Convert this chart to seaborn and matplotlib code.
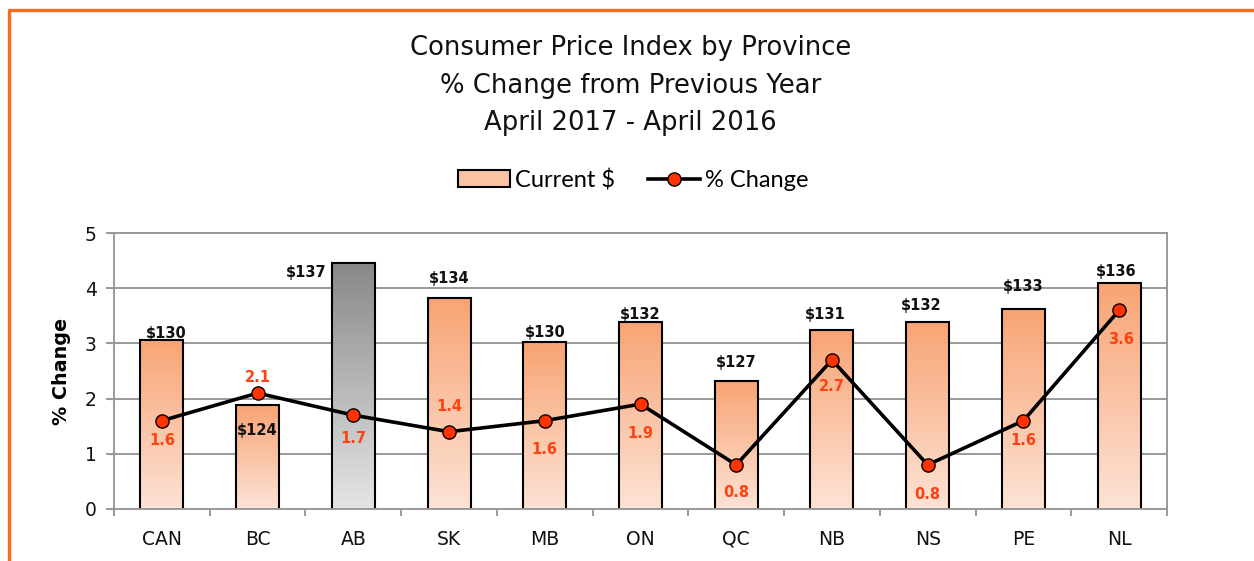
import numpy as np
import seaborn as sns
import matplotlib.pyplot as plt
from matplotlib.colors import LinearSegmentedColormap
from matplotlib.patches import Patch
from matplotlib.lines import Line2D

# data
PROVINCES = ['CAN', 'BC', 'AB', 'SK', 'MB', 'ON', 'QC', 'NB', 'NS', 'PE', 'NL']
CPI_DOLLARS = [130.3, 124.4, 137.3, 134.1, 130.1, 131.9, 126.6, 131.2, 131.9, 133.1, 135.5]
PCT_CHANGE = [1.6, 2.1, 1.7, 1.4, 1.6, 1.9, 0.8, 2.7, 0.8, 1.6, 3.6]
HIGHLIGHT = 'AB'

TITLE = 'Consumer Price Index by Province\n% Change from Previous Year\nApril 2017 - April 2016'

# label nudges in points (dx, dy) - only to mimic where the labels sit
DOLLAR_OFFSETS = [(3, 5), (0, -18), (-34, -7), (0, 14), (0, 7), (0, 6),
                  (0, 13), (-5, 11), (-5, 12), (0, 16), (-2, 8)]
PCT_OFFSETS = [(0, -14), (0, 11), (0, -17), (0, 18), (0, -21), (0, -21),
               (0, -20), (0, -19), (0, -21), (0, -14), (1, -21)]

ORANGE_TOP = '#F8A474'
ORANGE_BOT = '#FDE3D6'
GREY_TOP = '#888888'
GREY_BOT = '#E4E6E6'
RED = '#FF3300'
LABEL_RED = '#FF4010'
GRID = '#9A9A9A'
BORDER = '#F96B1D'

plt.rcParams['font.family'] = ['DejaVu Sans']

DPI = 100
fig = plt.figure(figsize=(12.54, 5.61), dpi=DPI)
ax = fig.add_axes([114 / 1254, 1 - 509 / 561, 1053 / 1254, 276 / 561])

# bars on the (hidden) dollar axis
sns.barplot(x=PROVINCES, y=CPI_DOLLARS, ax=ax, color=ORANGE_TOP, saturation=1,
            width=0.45, edgecolor='black', linewidth=1.5, zorder=2)
ax.set_ylim(115, 140)
ax.set_xlim(-0.5, len(PROVINCES) - 0.5)
y_floor = ax.get_ylim()[0]

# gradient fill for every bar (visible part only)
grad = np.linspace(0, 1, 256).reshape(-1, 1)
for patch, prov in zip(ax.patches, PROVINCES):
    if prov == HIGHLIGHT:
        cmap = LinearSegmentedColormap.from_list('g', [GREY_BOT, GREY_TOP])
    else:
        cmap = LinearSegmentedColormap.from_list('o', [ORANGE_BOT, ORANGE_TOP])
    x0, w = patch.get_x(), patch.get_width()
    top = patch.get_y() + patch.get_height()
    ax.imshow(grad, extent=[x0, x0 + w, y_floor, top], origin='lower',
              aspect='auto', cmap=cmap, zorder=1.5)
    patch.set_facecolor('none')
ax.set_ylim(115, 140)
ax.set_xlim(-0.5, len(PROVINCES) - 0.5)

for i, (patch, val) in enumerate(zip(ax.patches, CPI_DOLLARS)):
    dx, dy = DOLLAR_OFFSETS[i]
    ax.annotate('${:.0f}'.format(val), (i, patch.get_y() + patch.get_height()),
                xytext=(dx, dy), textcoords='offset points', ha='center', va='center',
                fontsize=10.5, fontweight='bold', color='#111111', zorder=5)

ax.set_yticks(np.arange(115, 141, 5))
ax.yaxis.grid(True, color=GRID, linewidth=1.4)
ax.set_axisbelow(True)
ax.tick_params(axis='y', left=False, labelleft=False)
ax.set_xticks(np.arange(len(PROVINCES)))
ax.set_xticklabels(PROVINCES)
ax.set_xticks(np.arange(len(PROVINCES) + 1) - 0.5, minor=True)
ax.tick_params(axis='x', which='major', length=0, pad=15, labelsize=13.5, labelcolor='#111111')
ax.tick_params(axis='x', which='minor', length=5, width=1.4, color=GRID)
ax.set_xlabel('')
ax.set_ylabel('')
for s in ax.spines.values():
    s.set_color(GRID)
    s.set_linewidth(1.4)

# % change line on the twin axis, ticks shown on the left
ax2 = ax.twinx()
ax2.plot(np.arange(len(PROVINCES)), PCT_CHANGE, color='black', linewidth=2.6,
         marker='o', markersize=9.5, markerfacecolor=RED, markeredgecolor='black',
         markeredgewidth=1.0, zorder=3)
ax2.set_ylim(0, 5)
ax2.set_yticks(range(0, 6))
ax2.yaxis.tick_left()
ax2.yaxis.set_label_position('left')
ax2.tick_params(axis='y', length=5.5, width=1.4, color=GRID, pad=7, labelsize=13.5,
                labelcolor='#111111')
ax2.set_ylabel('% Change', fontsize=13.8, fontweight='bold', labelpad=10)
for s in ax2.spines.values():
    s.set_visible(False)

for i, val in enumerate(PCT_CHANGE):
    dx, dy = PCT_OFFSETS[i]
    ax2.annotate('{:.1f}'.format(val), (i, val), xytext=(dx, dy), textcoords='offset points',
                 ha='center', va='center', fontsize=10.5, fontweight='bold',
                 color=LABEL_RED, zorder=5)

fig.suptitle(TITLE, x=0.503, y=1 - 35 / 561, va='top', fontsize=18.6, linespacing=1.58,
             color='#111111')

handles = [Patch(facecolor='#FAC3A4', edgecolor='black', linewidth=1.5),
           Line2D([], [], color='black', linewidth=2.6, marker='o', markersize=9.5,
                  markerfacecolor=RED, markeredgecolor='black')]
fig.legend(handles, ['Current $', '% Change'], loc='center', ncol=2,
           bbox_to_anchor=(0.505, 1 - 180 / 561), frameon=False,
           prop={'family': 'Lato', 'size': 17}, handlelength=2.2,
           handletextpad=0.2, columnspacing=1.4)

# orange chart-area border (top and left edge visible)
fig.add_artist(Line2D([8.5 / 1254, 8.5 / 1254, 1.0], [0.0, 1 - 10 / 561, 1 - 10 / 561],
                      transform=fig.transFigure, color=BORDER, linewidth=2.4))

plt.savefig('out.png', dpi=DPI)
plt.close()
